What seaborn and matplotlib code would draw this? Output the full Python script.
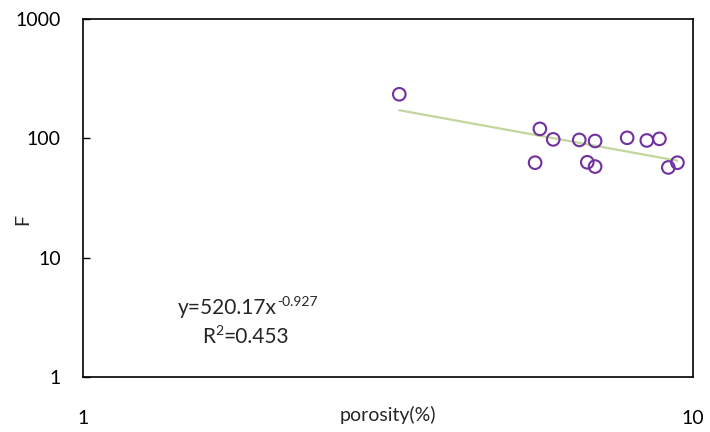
import matplotlib
matplotlib.use("Agg")
import matplotlib.pyplot as plt
import seaborn as sns
import numpy as np
import pandas as pd

# porosity (%) and formation factor F
porosity = [3.30, 5.61, 5.90, 6.51, 6.91, 7.80, 8.40, 8.81, 5.51, 6.71, 6.91, 9.11, 9.43]
F = [234, 120, 98, 97, 95, 101, 96, 99, 62.5, 63, 58, 57, 62.5]

# power-law fit shown on the chart
fit_a = 520.17
fit_b = -0.927
fit_r2 = 0.453

y_ticks = [1, 10, 100, 1000]
x_ticks = [1, 10]


def main():
    sns.set_theme(style="white")
    plt.rcParams['font.family'] = ['Lato', 'DejaVu Sans']

    df = pd.DataFrame({"porosity": porosity, "F": F})

    fig, ax = plt.subplots(figsize=(7.10, 4.32), dpi=100)
    fig.subplots_adjust(left=83 / 710, right=693 / 710, bottom=1 - 377 / 432, top=1 - 19 / 432)

    # trend line between the extreme porosity values
    xs = np.array([min(porosity), max(porosity)])
    trend = pd.DataFrame({"porosity": xs, "F": fit_a * xs ** fit_b})
    sns.lineplot(data=trend, x="porosity", y="F", ax=ax, color="#C3D69B", linewidth=1.6)

    sns.scatterplot(data=df, x="porosity", y="F", ax=ax, marker="o", s=82,
                    facecolor="none", edgecolor="#7030A0", linewidth=1.5, zorder=3)

    ax.set_xscale("log")
    ax.set_yscale("log")
    ax.set_xlim(1, 10)
    ax.set_ylim(1, 1000)

    ax.set_yticks(y_ticks)
    ax.set_yticklabels([str(t) for t in y_ticks])
    ax.set_xticks(x_ticks)
    ax.set_xticklabels([str(t) for t in x_ticks])
    ax.minorticks_off()
    ax.tick_params(axis="y", direction="in", length=5, width=1, left=True, pad=16,
                   labelsize=14, colors="black")
    ax.tick_params(axis="x", length=0, pad=24, labelsize=14, colors="black")

    for sp in ax.spines.values():
        sp.set_color("black")
        sp.set_linewidth(1.2)

    ax.set_xlabel("porosity(%)", fontsize=14, va="center")
    ax.set_ylabel("F", fontsize=14, va="center")
    ax.xaxis.set_label_coords(0.5, -0.106)
    ax.yaxis.set_label_coords(-0.098, 0.441)

    # fit equation with superscripts (baselines in axes fraction)
    base1, sup1 = 0.175, 0.199
    base2, sup2 = 0.0958, 0.118
    eq = ax.text(0.318, base1, f"y={fit_a:.2f}x", transform=ax.transAxes,
                 ha="right", va="baseline", fontsize=15)
    ax.annotate(f"{fit_b:.3f}", xy=(1, sup1), xycoords=(eq, "axes fraction"),
                ha="left", va="baseline", fontsize=10)

    r = ax.text(0.196, base2, "R", transform=ax.transAxes,
                ha="left", va="baseline", fontsize=15)
    sq = ax.annotate("2", xy=(1, sup2), xycoords=(r, "axes fraction"),
                     ha="left", va="baseline", fontsize=10)
    ax.annotate(f"={fit_r2:.3f}", xy=(1, base2), xycoords=(sq, "axes fraction"),
                ha="left", va="baseline", fontsize=15)

    plt.savefig("out.png", dpi=100)


if __name__ == "__main__":
    main()
